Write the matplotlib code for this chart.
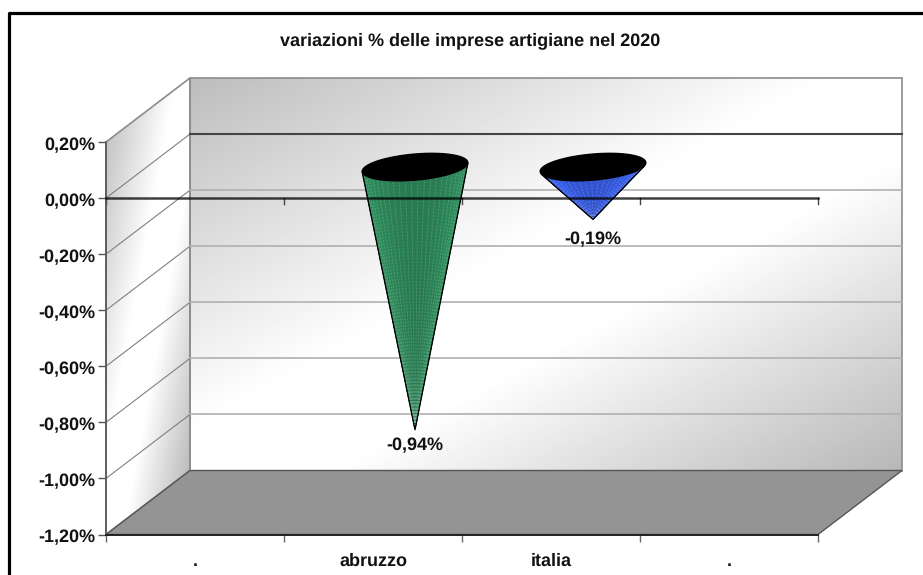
import numpy as np
import matplotlib
matplotlib.use("Agg")
import matplotlib.pyplot as plt
from matplotlib.lines import Line2D
from matplotlib.patches import Polygon
from matplotlib.transforms import ScaledTranslation

plt.rcParams['font.family'] = ['Liberation Sans', 'DejaVu Sans']
plt.rcParams['font.weight'] = 'bold'
plt.rcParams['text.hinting'] = 'no_hinting'
plt.rcParams['text.hinting_factor'] = 1

title = "variazioni % delle imprese artigiane nel 2020"
categories = ['.', 'abruzzo', 'italia', '.']
values = [None, -0.94, -0.19, None]
labels = ['', '-0,94%', '-0,19%', '']
colors = [None, '#2b8557', '#355ae0', None]
y_ticks = [0.2, 0.0, -0.2, -0.4, -0.6, -0.8, -1.0, -1.2]
y_labels = ['0,20%', '0,00%', '-0,20%', '-0,40%', '-0,60%', '-0,80%', '-1,00%', '-1,20%']

W, H = 923, 575
fig = plt.figure(figsize=(W / 100, H / 100), dpi=100, facecolor='white')

# frame: only left and top edges are inside the picture
fig.add_artist(Line2D([8.5 / W, 8.5 / W, 1.0], [-0.01, 1 - 12.5 / H, 1 - 12.5 / H],
                      transform=fig.transFigure, color='black', lw=2.3))

# front plane of the 3d box in pixels
left, right, top, bottom = 106, 818, 142, 534.5
ax = fig.add_axes([left / W, 1 - bottom / H, (right - left) / W, (bottom - top) / H])
ax.patch.set_visible(False)

sx = (right - left) / 4    # px per category
sy = (bottom - top) / 1.4  # px per unit
dx = 84 / sx   # depth of the box
dy = 64 / sy

ymin, ymax = -1.2, 0.2


def gradient(poly, stops, zorder=1):
    # diagonal grey gradient, clipped to the wall
    xs = [p[0] for p in poly]
    ys = [p[1] for p in poly]
    u, v = np.meshgrid(np.linspace(0, 1, 300), np.linspace(0, 1, 300))
    g = np.interp((u + v) / 2, stops[0], stops[1])
    im = ax.imshow(g, extent=[min(xs), max(xs), min(ys), max(ys)], origin='upper', cmap='gray',
                   vmin=0, vmax=1, aspect='auto', zorder=zorder)
    patch = Polygon(poly, closed=True, transform=ax.transData, fill=False, ec='none')
    ax.add_patch(patch)
    im.set_clip_path(patch)
    im.set_clip_box(fig.bbox)


back = [(dx, ymin + dy), (4 + dx, ymin + dy), (4 + dx, ymax + dy), (dx, ymax + dy)]
side = [(0, ymin), (dx, ymin + dy), (dx, ymax + dy), (0, ymax)]
floor = [(0, ymin), (4, ymin), (4 + dx, ymin + dy), (dx, ymin + dy)]

gradient(back, ([0, 0.45, 0.6, 1], [0.74, 1.0, 1.0, 0.72]))
gradient(side, ([0, 0.42, 0.6, 1], [0.72, 1.0, 1.0, 0.68]))
ax.set_xlim(0, 4)
ax.set_ylim(ymin, ymax)

ax.add_patch(Polygon(floor, closed=True, fc='#949494', ec='#555555', lw=1.0, zorder=3, clip_on=False))
ax.add_patch(Polygon(back, closed=True, fill=False, ec='#8c8c8c', lw=1.2, zorder=2, clip_on=False))
ax.add_patch(Polygon(side, closed=True, fill=False, ec='#8c8c8c', lw=1.2, zorder=2, clip_on=False))

# gridlines on side and back wall
for v in y_ticks[1:-1]:
    ax.plot([0, dx], [v, v + dy], color='#808080', lw=0.8, zorder=2, clip_on=False)
    if v == 0.0:
        ax.plot([dx, 4 + dx], [v + dy, v + dy], color='#444444', lw=1.5, zorder=2, clip_on=False)
    else:
        ax.plot([dx, 4 + dx], [v + dy, v + dy], color='#b0b0b0', lw=1.2, zorder=2, clip_on=False)

# zero line with its ticks, it shows through the cones
ax.plot([0, 4], [0, 0], color='black', alpha=0.75, lw=1.8, zorder=7, clip_on=False)
for x in range(5):
    ax.plot([x, x], [0, -6 / sy], color='#444444', lw=1.0, zorder=4, clip_on=False)

# cones, sitting half way into the box
a_px, b_px, tilt = 53.0, 13.0, np.radians(5.0)
label_gap = {1: 16, 2: 20}
for i, val in enumerate(values):
    if val is None:
        continue
    cx = i + 0.5 + dx / 2
    cy = dy / 2
    t = np.linspace(0, 2 * np.pi, 721)[:-1]
    ex_px = a_px * np.cos(t) * np.cos(tilt) - b_px * np.sin(t) * np.sin(tilt)
    ey_px = a_px * np.cos(t) * np.sin(tilt) + b_px * np.sin(t) * np.cos(tilt) - 1
    ex = cx + ex_px / sx
    ey = cy + ey_px / sy
    # silhouette: the points seen at the widest angle from the apex
    ang = np.arctan2(ex_px, ey_px - val * sy)
    i_l, i_r = int(np.argmin(ang)), int(np.argmax(ang))
    # keep the arc that runs through the front of the ellipse
    arc = [i_r]
    while arc[-1] != i_l:
        arc.append((arc[-1] + 1) % 720)
    if np.mean(ey[arc]) > cy - 1 / sy:
        arc = [i_r]
        while arc[-1] != i_l:
            arc.append((arc[-1] - 1) % 720)
    base = np.array(matplotlib.colors.to_rgb(colors[i]))
    arc_x, arc_y = ex[arc], ey[arc]
    n = len(arc_x) - 1
    for k in range(n):
        f = k / max(n - 1, 1)
        shade = 1.08 - 0.16 * np.sin(np.pi * f) ** 2
        ax.fill([cx, arc_x[k], arc_x[k + 1]], [cy + val, arc_y[k], arc_y[k + 1]],
                color=np.clip(base * shade, 0, 1), lw=0.3, zorder=6, clip_on=False)
    # pale facet lines
    for k in range(0, n, 14):
        ax.plot([cx, arc_x[k]], [cy + val, arc_y[k]], color='white', alpha=0.2, lw=0.6,
                ls=(0, (2.5, 1.5)), zorder=6.5, clip_on=False)
    ax.plot([arc_x[0], cx, arc_x[-1]], [arc_y[0], cy + val, arc_y[-1]], color='black', lw=1.0,
            zorder=8, clip_on=False)
    ax.fill(ex, ey, color='black', zorder=9, clip_on=False)
    ax.text(cx, cy + val - label_gap[i] / sy, labels[i], ha='center', va='center', fontsize=12.7,
            zorder=10, color='#111111')

# axes
ax.set_yticks(y_ticks)
ax.set_yticklabels(y_labels, fontsize=12.7, color='#111111')
ax.set_xticks(range(5))
ax.set_xticklabels([])
ax.set_xticks([0.5, 1.5, 2.5, 3.5], minor=True)
ax.set_xticklabels(categories, minor=True, fontsize=12.9, color='#111111')
ax.tick_params(axis='x', which='minor', length=0, pad=13)
ax.tick_params(axis='x', which='major', length=5, width=1.0, color='#666666')
ax.tick_params(axis='y', length=6, width=1.0, color='#555555', pad=1.5)
for s in ('top', 'right'):
    ax.spines[s].set_visible(False)
ax.spines['left'].set_color('#555555')
ax.spines['left'].set_linewidth(1.2)
ax.spines['bottom'].set_color('#222222')
ax.spines['bottom'].set_linewidth(1.4)
ax.spines['left'].set_zorder(5)
ax.spines['bottom'].set_zorder(5)

# tick labels sit a little below their ticks in the original
shift = ScaledTranslation(0, -1.5 / 100, fig.dpi_scale_trans)
for lab in ax.get_yticklabels():
    lab.set_transform(lab.get_transform() + shift)

fig.text(470 / W, 1 - 41 / H, title, ha='center', va='center', fontsize=12.7, color='#111111')

fig.savefig('out.png', dpi=100)
